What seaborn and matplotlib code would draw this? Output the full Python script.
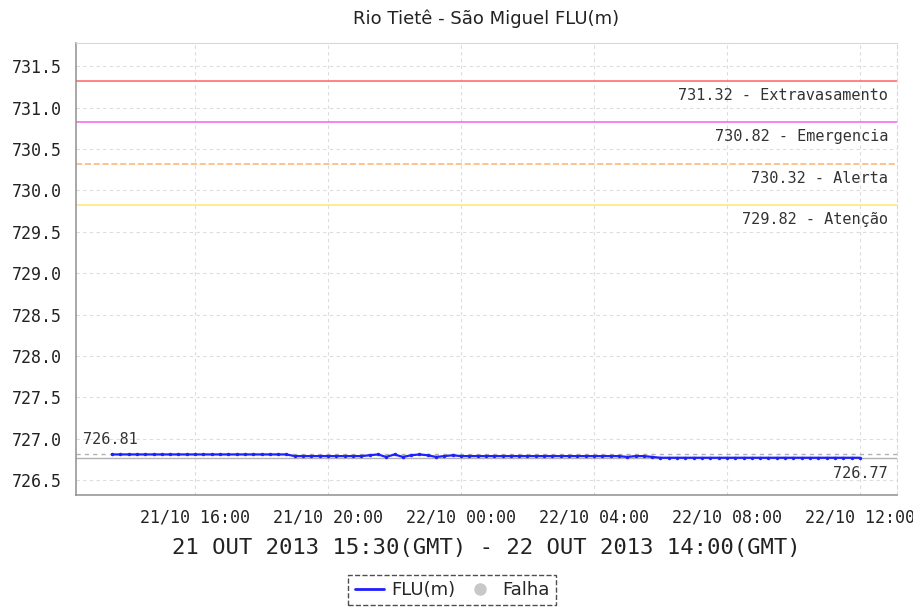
import matplotlib
matplotlib.use("Agg")
import matplotlib.pyplot as plt
import matplotlib.dates as mdates
from matplotlib.lines import Line2D
import seaborn as sns
import numpy as np
import pandas as pd

# -------------------------
# Data (local time, 15 min readings)
# -------------------------

start_time = "2013-10-21 13:30"
end_time = "2013-10-22 12:00"

flu_values = [
    # 13:30 - 18:45
    726.81, 726.81, 726.81, 726.81, 726.81, 726.81, 726.81, 726.81,
    726.81, 726.81, 726.81, 726.81, 726.81, 726.81, 726.81, 726.81,
    726.81, 726.81, 726.81, 726.81, 726.81, 726.81,
    # 19:00 - 21:00
    726.79, 726.79, 726.79, 726.79, 726.79, 726.79, 726.79, 726.79, 726.79,
    # 21:15 - 23:45
    726.80, 726.81, 726.78, 726.81, 726.78, 726.80, 726.81, 726.80,
    726.78, 726.79, 726.80,
    # 00:00 - 04:45
    726.79, 726.79, 726.79, 726.79, 726.79, 726.79, 726.79, 726.79,
    726.79, 726.79, 726.79, 726.79, 726.79, 726.79, 726.79, 726.79,
    726.79, 726.79, 726.79, 726.79,
    # 05:00 - 05:45
    726.78, 726.79, 726.79, 726.78,
    # 06:00 - 12:00
    726.77, 726.77, 726.77, 726.77, 726.77, 726.77, 726.77, 726.77,
    726.77, 726.77, 726.77, 726.77, 726.77, 726.77, 726.77, 726.77,
    726.77, 726.77, 726.77, 726.77, 726.77, 726.77, 726.77, 726.77,
    726.77,
]

threshold_levels = [731.32, 730.82, 730.32, 729.82]
threshold_names = ["Extravasamento", "Emergencia", "Alerta", "Atenção"]
threshold_colors = ["#ff6f6f", "#f36cf3", "#ffb877", "#ffe97a"]
threshold_styles = ["-", "-", "--", "-"]

max_value = 726.81
min_value = 726.77

y_ticks = [726.5, 727.0, 727.5, 728.0, 728.5, 729.0, 729.5,
           730.0, 730.5, 731.0, 731.5]

title = "Rio Tietê - São Miguel FLU(m)"
x_label = "21 OUT 2013 15:30(GMT) - 22 OUT 2013 14:00(GMT)"

df = pd.DataFrame({
    "time": pd.date_range(start_time, end_time, freq="15min"),
    "FLU(m)": flu_values,
})

# -------------------------
# Figure
# -------------------------

sns.set_style("white")
plt.rcParams["font.family"] = ["DejaVu Sans"]

mono = "DejaVu Sans Mono"

fig = plt.figure(figsize=(9.13, 6.14), dpi=100)
ax = fig.add_axes([0.0832, 0.1938, 0.8993, 0.7362])

ax.set_ylim(726.32, 731.78)
ax.set_xlim(pd.Timestamp("2013-10-21 12:25"), pd.Timestamp("2013-10-22 13:07"))

ax.grid(True, linestyle=(0, (3, 3)), color="#dcdcdc", linewidth=0.8)
ax.set_axisbelow(True)

# threshold lines
for level, name, color, style in zip(
    threshold_levels, threshold_names, threshold_colors, threshold_styles
):
    ax.axhline(level, color=color, linestyle=style, linewidth=1.2)
    ax.annotate(
        f"{level:.2f} - {name}",
        xy=(0.989, level),
        xycoords=("axes fraction", "data"),
        xytext=(0, -7),
        textcoords="offset pixels",
        ha="right",
        va="top",
        fontsize=11,
        family=mono,
        color="#333333",
    )

# max / min markers
ax.axhline(max_value, color="#b0b0b0", linestyle=(0, (3, 3)), linewidth=1.0)
ax.axhline(min_value, color="#b0b0b0", linestyle="-", linewidth=1.0)

ax.annotate(
    f"{max_value:.2f}",
    xy=(0.008, max_value),
    xycoords=("axes fraction", "data"),
    xytext=(0, 7),
    textcoords="offset pixels",
    ha="left",
    va="bottom",
    fontsize=11,
    family=mono,
    color="#333333",
)

ax.annotate(
    f"{min_value:.2f}",
    xy=(0.989, min_value),
    xycoords=("axes fraction", "data"),
    xytext=(0, -8),
    textcoords="offset pixels",
    ha="right",
    va="top",
    fontsize=11,
    family=mono,
    color="#333333",
)

# data series
sns.lineplot(
    data=df,
    x="time",
    y="FLU(m)",
    ax=ax,
    color="#1f1fff",
    linewidth=1.6,
    marker="o",
    markersize=2.5,
    markeredgewidth=0,
    legend=False,
)

# -------------------------
# Axes styling
# -------------------------

ax.set_yticks(y_ticks)
ax.set_yticklabels([f"{v:.1f}" for v in y_ticks], family=mono, fontsize=12)

ax.xaxis.set_major_locator(mdates.HourLocator(byhour=[0, 4, 8, 12, 16, 20]))
ax.xaxis.set_major_formatter(mdates.DateFormatter("%d/%m %H:%M"))
for lab in ax.get_xticklabels():
    lab.set_family(mono)
    lab.set_fontsize(12)

ax.tick_params(axis="both", direction="out", length=4, width=1,
               color="#888888", labelcolor="#222222")
ax.tick_params(axis="y", pad=6)
ax.tick_params(axis="x", pad=6)

for side in ["left", "bottom"]:
    ax.spines[side].set_color("#909090")
    ax.spines[side].set_linewidth(1.1)
ax.spines["top"].set_color("#d8d8d8")
ax.spines["right"].set_color("#d8d8d8")
ax.spines["right"].set_linestyle((0, (3, 3)))

ax.set_ylabel("")
ax.set_xlabel(x_label, family=mono, fontsize=16, color="#222222", labelpad=8)

ax.set_title(title, fontsize=13, color="#222222", pad=14)

# legend
handles = [
    Line2D([], [], color="#1f1fff", linewidth=2),
    Line2D([], [], color="#c8c8c8", marker="o", linestyle="none", markersize=8),
]
leg = fig.legend(
    handles,
    ["FLU(m)", "Falha"],
    loc="center",
    bbox_to_anchor=(0.495, 0.039),
    ncol=2,
    fontsize=13,
    frameon=True,
    fancybox=False,
    handlelength=1.6,
    handletextpad=0.4,
    columnspacing=0.6,
    borderpad=0.35,
)
frame = leg.get_frame()
frame.set_edgecolor("#222222")
frame.set_linestyle("--")
frame.set_linewidth(1.0)

fig.savefig("out.png", dpi=100)
plt.close(fig)
